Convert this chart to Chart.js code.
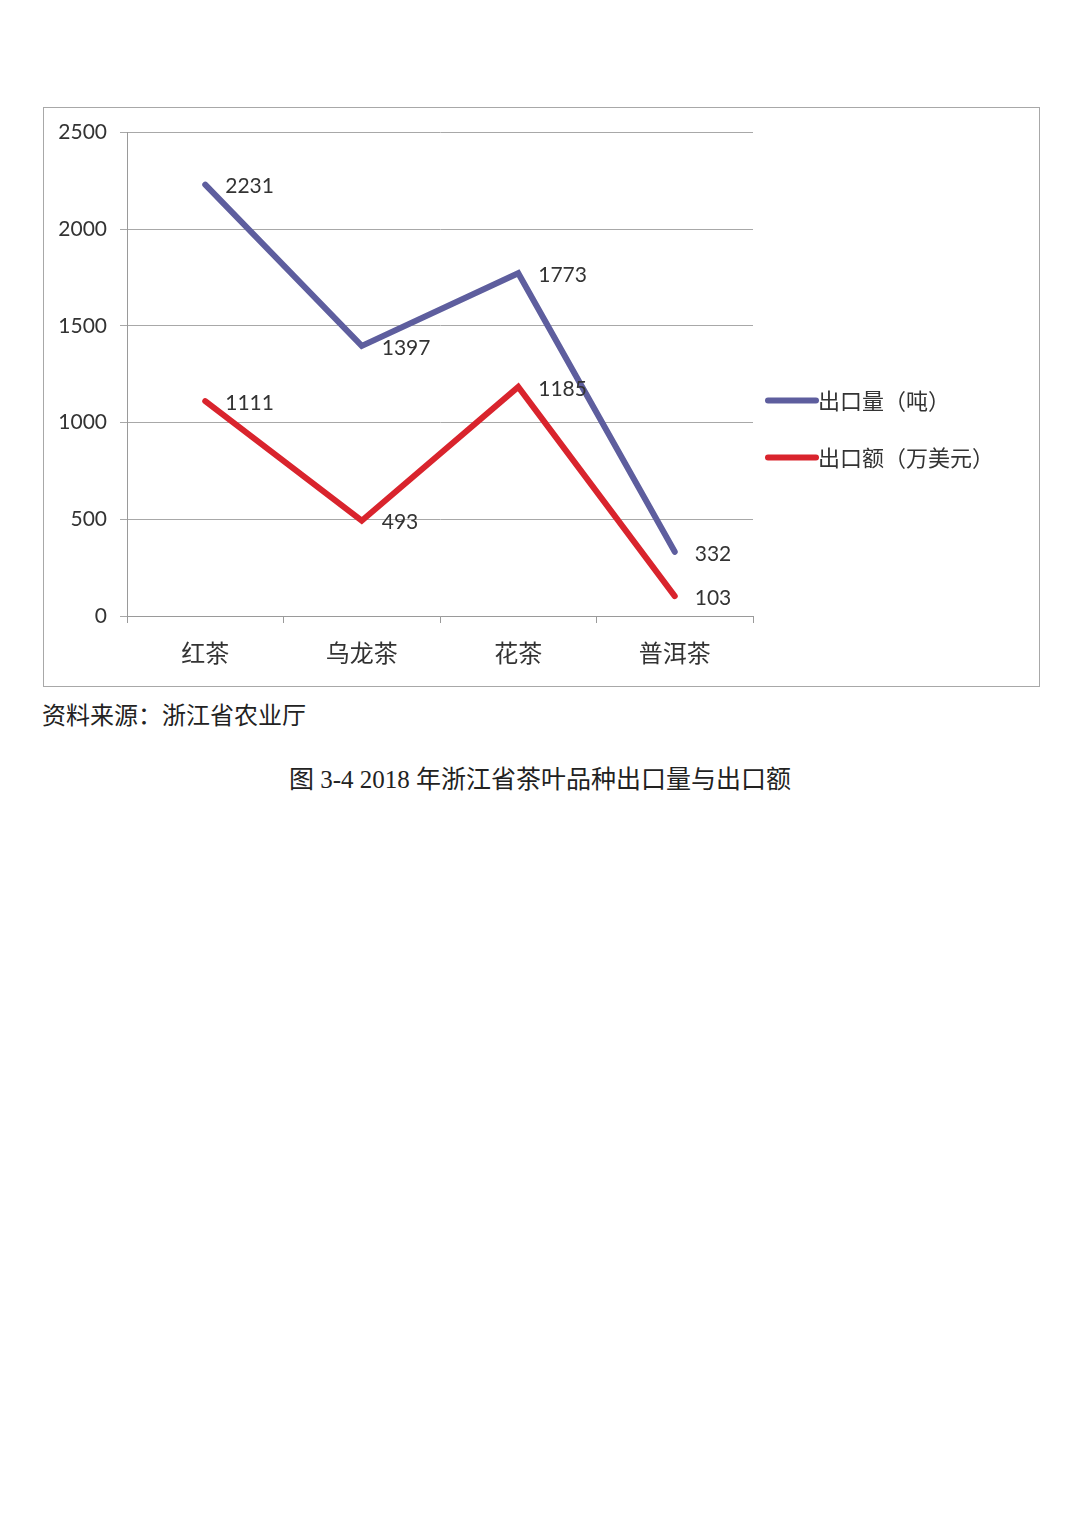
<!DOCTYPE html>
<html>
<head>
<meta charset="utf-8">
<script src="https://cdn.jsdelivr.net/npm/chart.js@4/dist/chart.umd.min.js"></script>
<style>
  body { margin: 0; background: #fff; width: 1080px; height: 1528px; position: relative; }
  #frame { position: absolute; left: 43px; top: 107px; width: 997px; height: 580px; box-sizing: border-box; border: 1px solid #a8a8a8; }
  #wrap { position: absolute; left: 43px; top: 107px; width: 997px; height: 580px; }
  #source { position: absolute; left: 42px; top: 696px; font: 24px "Noto Sans CJK SC", sans-serif; color: #222; }
  #caption { position: absolute; left: 0; width: 1080px; top: 759px; text-align: center; font: 25px "Liberation Serif", "Noto Sans CJK SC", serif; color: #222; }
</style>
</head>
<body>
<div id="frame"></div>
<div id="wrap"><canvas id="tea-chart"></canvas></div>
<div id="source">资料来源：浙江省农业厅</div>
<div id="caption">图 3-4 2018 年浙江省茶叶品种出口量与出口额</div>
<script>
let categories = ["红茶", "乌龙茶", "花茶", "普洱茶"];
let seriesNames = ["出口量（吨）", "出口额（万美元）"];
let exportVolume = [2231, 1397, 1773, 332];
let exportValue = [1111, 493, 1185, 103];
let yTicks = [0, 500, 1000, 1500, 2000, 2500];

let numFont = "Lato, 'Open Sans', sans-serif";
let cjkFont = "'Noto Sans CJK SC', sans-serif";

// value labels to the right of each point
let valueLabels = {
    id: "valueLabels",
    afterDatasetsDraw(chart) {
        let ctx = chart.ctx;
        ctx.save();
        ctx.font = "21px " + numFont;
        ctx.fillStyle = "#333";
        ctx.textBaseline = "middle";
        chart.data.datasets.forEach((ds, i) => {
            chart.getDatasetMeta(i).data.forEach((pt, j) => {
                ctx.fillText(String(ds.data[j]), pt.x + 20, pt.y + 2);
            });
        });
        ctx.restore();
    }
};

// legend on the right, drawn next to the plot
let sideLegend = {
    id: "sideLegend",
    afterDraw(chart) {
        let ctx = chart.ctx;
        let area = chart.chartArea;
        ctx.save();
        ctx.font = "22px " + cjkFont;
        ctx.textBaseline = "middle";
        chart.data.datasets.forEach((ds, i) => {
            let y = area.top + 268 + i * 57;
            let x = area.right + 15;
            ctx.strokeStyle = ds.borderColor;
            ctx.lineWidth = 6;
            ctx.lineCap = "round";
            ctx.beginPath();
            ctx.moveTo(x, y);
            ctx.lineTo(x + 48, y);
            ctx.stroke();
            ctx.fillStyle = "#333";
            ctx.fillText(ds.label, x + 50, y);
        });
        ctx.restore();
    }
};

new Chart(document.getElementById("tea-chart").getContext("2d"), {
    type: "line",
    data: {
        labels: categories,
        datasets: [{
            label: seriesNames[0],
            data: exportVolume,
            borderColor: "#5e5e9e",
            borderWidth: 6,
            borderCapStyle: "round",
            borderJoinStyle: "miter",
            pointRadius: 0,
            tension: 0,
        }, {
            label: seriesNames[1],
            data: exportValue,
            borderColor: "#d9242d",
            borderWidth: 6,
            borderCapStyle: "round",
            borderJoinStyle: "miter",
            pointRadius: 0,
            tension: 0,
        }],
    },
    options: {
        responsive: true,
        maintainAspectRatio: false,
        animation: false,
        layout: { padding: { top: 25, right: 287, left: 0, bottom: 0 } },
        plugins: {
            legend: { display: false },
            tooltip: { enabled: false },
        },
        scales: {
            x: {
                offset: true,
                afterFit: (s) => { s.height = 71; },
                grid: { offset: true, drawOnChartArea: false, color: "#9a9a9a", tickLength: 7 },
                border: { color: "#9a9a9a" },
                ticks: { color: "#333", padding: 15, font: { family: cjkFont, size: 24 } },
            },
            y: {
                min: 0,
                max: 2500,
                afterFit: (s) => { s.width = 84; },
                afterBuildTicks: (s) => { s.ticks = yTicks.map(v => ({ value: v })); },
                grid: { color: "#a8a8a8", tickLength: 7 },
                border: { color: "#9a9a9a" },
                ticks: {
                    color: "#333", padding: 13, font: { family: numFont, size: 21 },
                    callback: (v) => String(v),
                },
            },
        },
    },
    plugins: [valueLabels, sideLegend],
});
</script>
</body>
</html>
